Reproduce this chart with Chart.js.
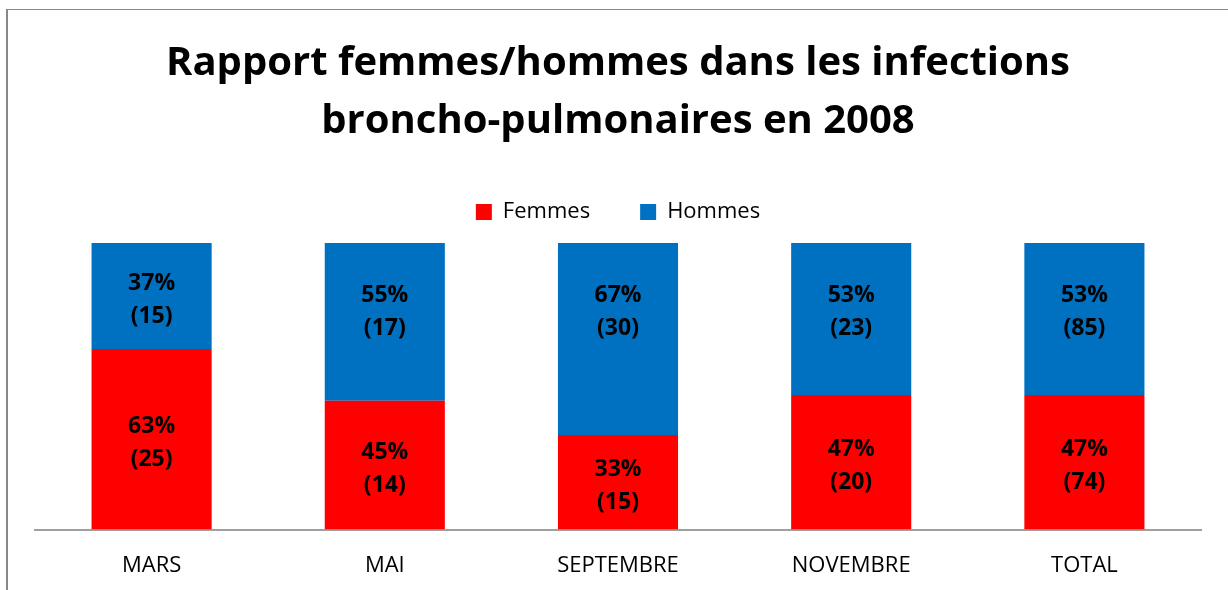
<!DOCTYPE html>
<html>
<head>
<meta charset="utf-8">
<script src="https://cdn.jsdelivr.net/npm/chart.js@4"></script>
<style>
  html, body { margin: 0; padding: 0; background: #fff; overflow: hidden; }
  #wrap { position: relative; width: 1228px; height: 590px; overflow: hidden; }
  #frame { position: absolute; left: 6px; top: 9px; width: 1300px; height: 700px;
           border-left: 2px solid #888; border-top: 1px solid #888; }
  #chart { position: absolute; left: 0; top: 0; }
</style>
</head>
<body>
<div id="wrap">
  <div id="frame"></div>
  <canvas id="chart" width="1228" height="595"></canvas>
</div>
<script>
// données
const categories = ['MARS', 'MAI', 'SEPTEMBRE', 'NOVEMBRE', 'TOTAL'];
const femmesPct = [63, 45, 33, 47, 47];
const hommesPct = [37, 55, 67, 53, 53];
const femmesCount = [25, 14, 15, 20, 74];
const hommesCount = [15, 17, 30, 23, 85];

const FONT = "'Open Sans', sans-serif";

// étiquettes dans les barres : "xx%" + "(n)"
const barLabels = {
    id: 'barLabels',
    afterDatasetsDraw(chart) {
        const ctx = chart.ctx;
        const counts = [femmesCount, hommesCount];
        ctx.save();
        ctx.font = 'bold 23px ' + FONT;
        ctx.fillStyle = '#000';
        ctx.textAlign = 'center';
        ctx.textBaseline = 'middle';
        chart.data.datasets.forEach((ds, di) => {
            const meta = chart.getDatasetMeta(di);
            meta.data.forEach((bar, i) => {
                let cy = (bar.y + bar.base) / 2 + 2.5;
                if (di === 1) cy = Math.min(cy, bar.y + 67); // segment du haut : près du sommet
                ctx.fillText(ds.data[i] + '%', bar.x, cy - 15);
                ctx.fillText('(' + counts[di][i] + ')', bar.x, cy + 18);
            });
        });
        ctx.restore();
    }
};

// un peu d'espace sous la légende
const legendGap = {
    id: 'legendGap',
    beforeInit(chart) {
        const fit = chart.legend.fit;
        chart.legend.fit = function () {
            fit.call(this);
            this.height += 10;
        };
    }
};

const chart = new Chart(document.getElementById('chart'), {
    type: 'bar',
    data: {
        labels: categories,
        datasets: [{
            label: 'Femmes',
            data: femmesPct,
            backgroundColor: '#FF0000',
            barPercentage: 0.515,
            categoryPercentage: 1
        }, {
            label: 'Hommes',
            data: hommesPct,
            backgroundColor: '#0070C0',
            barPercentage: 0.515,
            categoryPercentage: 1
        }]
    },
    options: {
        responsive: false,
        animation: false,
        layout: { padding: { left: 35, right: 27, top: 31, bottom: 1 } },
        scales: {
            x: {
                stacked: true,
                grid: { display: false },
                border: { display: true, color: '#A0A0A0', width: 2 },
                ticks: { color: '#000', font: { family: FONT, size: 22 }, padding: 15 }
            },
            y: {
                stacked: true,
                display: false,
                min: 0,
                max: 100
            }
        },
        plugins: {
            title: {
                display: true,
                text: ['Rapport femmes/hommes dans les infections', 'broncho-pulmonaires en 2008'],
                color: '#000',
                font: { family: FONT, size: 40, weight: 'bold', lineHeight: 1.45 },
                padding: { top: 4, bottom: 0 }
            },
            legend: {
                labels: {
                    color: '#000',
                    font: { family: FONT, size: 22 },
                    boxWidth: 16,
                    boxHeight: 16,
                    padding: 50
                }
            },
            tooltip: { enabled: false }
        }
    },
    plugins: [barLabels, legendGap]
});
</script>
</body>
</html>
